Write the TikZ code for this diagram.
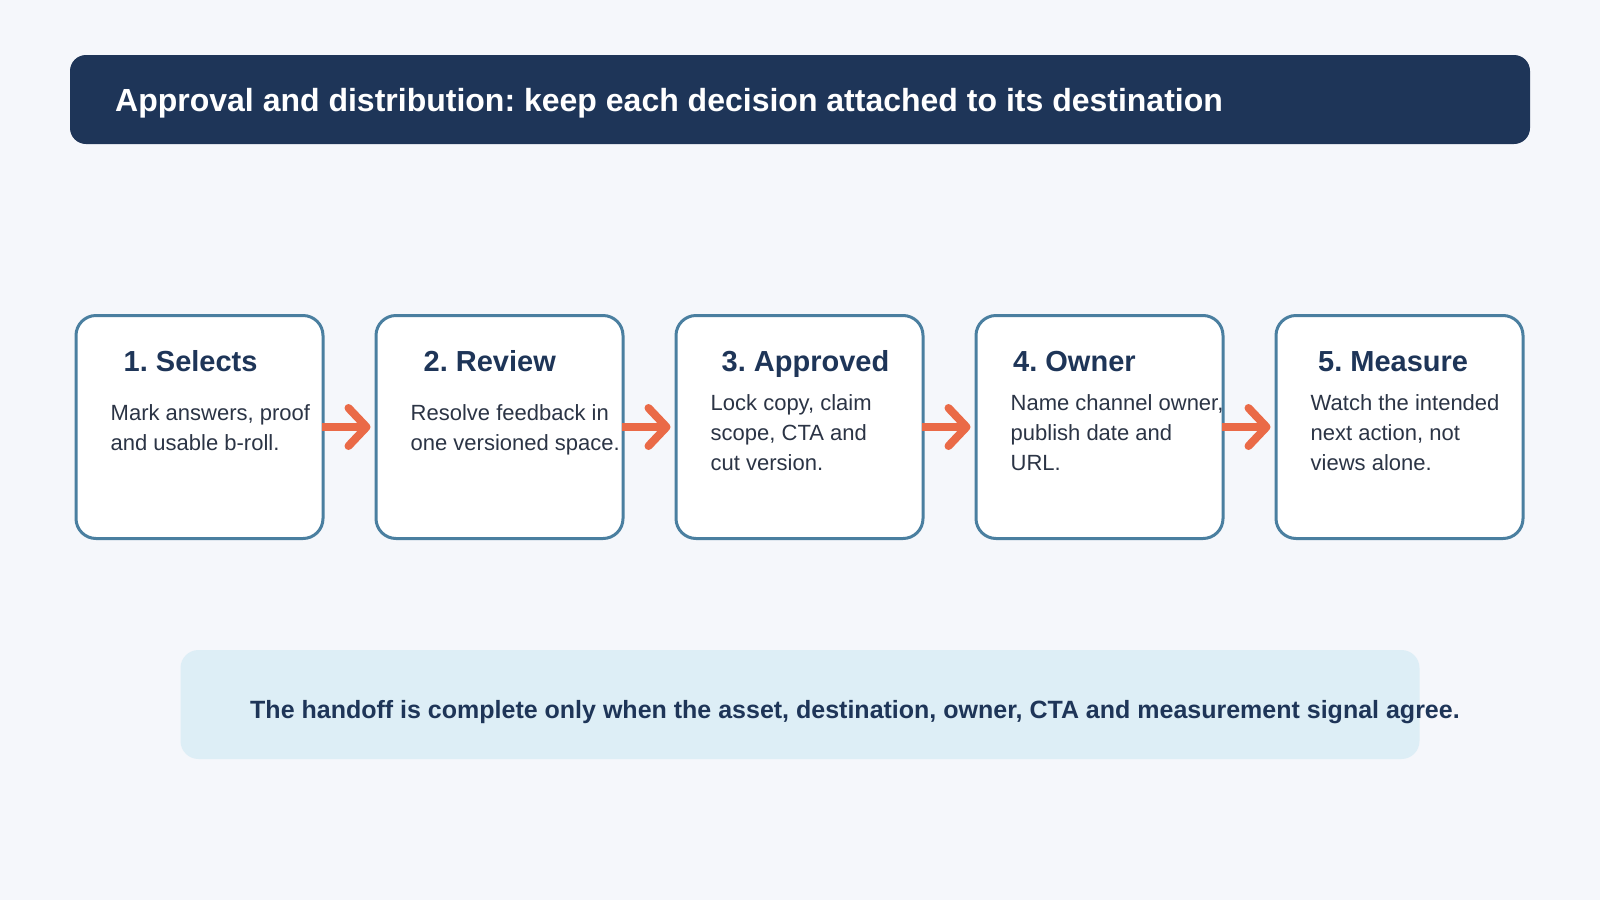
\documentclass[tikz,border=0pt]{standalone}
\usepackage{fontspec}
\setsansfont{Liberation Sans}
\usetikzlibrary{arrows.meta}
\usetikzlibrary{shapes}
\definecolor{pagebg}{HTML}{F5F7FB}
\definecolor{navy}{HTML}{1E3558}
\definecolor{steel}{HTML}{4A7FA0}
\definecolor{coral}{HTML}{EA6A47}
\definecolor{notefill}{HTML}{DDEEF6}
\definecolor{bodytext}{HTML}{2B3445}
\frenchspacing

\begin{document}
\begin{tikzpicture}[x = 1pt, y = -1pt, font=\sffamily]
\tikzstyle{headerStyle} = [fill = navy, rounded corners = 16pt, minimum width = 1460pt, minimum height = 89pt, inner sep = 0pt]
\tikzstyle{stageStyle} = [draw = steel, line width = 3pt, fill = white, rounded corners = 20pt, minimum width = 247pt, minimum height = 223pt, inner sep = 0pt]
\tikzstyle{nameStyle} = [anchor = base west, inner sep = 0pt, text = navy, font = \sffamily\fontsize{29}{32}\selectfont\bfseries]
\tikzstyle{bodyStyle} = [anchor = west, inner sep = 0pt, align = left, text = bodytext, font = \sffamily\fontsize{22}{30}\selectfont]
\tikzstyle{flowStyle} = [draw = coral, line width = 8pt, -{Straight Barb[length = 18pt, width = 38pt, round]}]
\tikzstyle{noteStyle} = [fill = notefill, rounded corners = 18pt, minimum width = 1239pt, minimum height = 109pt, inner sep = 0pt]
\fill[pagebg] (0, 0) rectangle (1600, 900);
\useasboundingbox (0, 0) rectangle (1600, 900);
\node[headerStyle] (h0) at (800, 99.5) {};
\node[anchor = west, inner sep = 0pt, text = white, font = \sffamily\fontsize{32}{36}\selectfont\bfseries] (t0) at (115, 103) {Approval and distribution: keep each decision attached to its destination};
\node[stageStyle] (v0) at (199.5, 427) {};
\node[stageStyle] (v1) at (499.5, 427) {};
\node[stageStyle] (v2) at (799.5, 427) {};
\node[stageStyle] (v3) at (1099.5, 427) {};
\node[stageStyle] (v4) at (1399.5, 427) {};
\node[nameStyle] (n0) at (123.5, 371) {1. Selects};
\node[nameStyle] (n1) at (423.5, 371) {2. Review};
\node[nameStyle] (n2) at (721.5, 371) {3. Approved};
\node[nameStyle] (n3) at (1013, 371) {4. Owner};
\node[nameStyle] (n4) at (1318, 371) {5. Measure};
\node[bodyStyle] (d0) at (110.5, 428) {Mark answers, proof\\and usable b-roll.};
\node[bodyStyle] (d1) at (410.5, 430) {Resolve feedback in\\one versioned space.};
\node[bodyStyle] (d2) at (710.5, 433) {Lock copy, claim\\scope, CTA and\\cut version.};
\node[bodyStyle] (d3) at (1010.5, 433) {Name channel owner,\\publish date and\\URL.};
\node[bodyStyle] (d4) at (1310.5, 433) {Watch the intended\\next action, not\\views alone.};
\draw[flowStyle] ([xshift = -3pt]v0.east) -- ([xshift = -4pt]v1.west);
\draw[flowStyle] ([xshift = -3pt]v1.east) -- ([xshift = -4pt]v2.west);
\draw[flowStyle] ([xshift = -3pt]v2.east) -- ([xshift = -4pt]v3.west);
\draw[flowStyle] ([xshift = -3pt]v3.east) -- ([xshift = -4pt]v4.west);
\node[noteStyle] (m0) at (800, 704.5) {};
\node[anchor = west, inner sep = 0pt, text = navy, font = \sffamily\fontsize{25}{28}\selectfont\bfseries] (m1) at (250, 712) {The handoff is complete only when the asset, destination, owner, CTA and measurement signal agree.};
\end{tikzpicture}
\end{document}
